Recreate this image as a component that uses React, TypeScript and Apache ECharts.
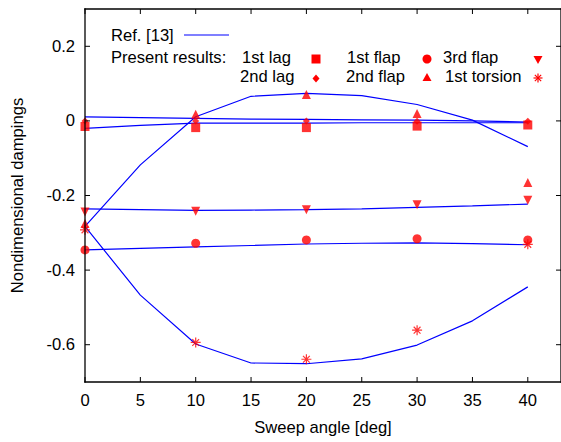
import React, { useEffect, useRef } from 'react';
import * as echarts from 'echarts';

// Reference [13] curves, sampled every 5 deg
const refSweep = [0, 5, 10, 15, 20, 25, 30, 35, 40];
const refLagA = [0.011, 0.009, 0.007, 0.005, 0.004, 0.003, 0.002, 0.0, -0.003];
const refLagB = [-0.020, -0.012, -0.006, -0.006, -0.006, -0.005, -0.005, -0.005, -0.005];
const refUp = [-0.283, -0.118, 0.011, 0.066, 0.074, 0.068, 0.044, 0.002, -0.069];
const refDown = [-0.283, -0.467, -0.598, -0.649, -0.651, -0.638, -0.601, -0.536, -0.445];
const ref3rdFlap = [-0.236, -0.238, -0.240, -0.239, -0.238, -0.236, -0.232, -0.228, -0.223];
const ref1stFlap = [-0.346, -0.342, -0.338, -0.334, -0.330, -0.328, -0.327, -0.329, -0.332];

// Present results
const sweep = [0, 10, 20, 30, 40];
const lag1 = [-0.015, -0.018, -0.018, -0.014, -0.011];
const flap1 = [-0.346, -0.328, -0.319, -0.316, -0.319];
const flap3 = [-0.244, -0.242, -0.238, -0.225, -0.213];
const lag2 = [0.0, 0.0, 0.0, -0.001, -0.001];
const flap2 = [-0.275, 0.018, 0.071, 0.020, -0.165];
const torsion1 = [-0.292, -0.594, -0.639, -0.561, -0.331];

const xTicks = [0, 5, 10, 15, 20, 25, 30, 35, 40];
const yTicks = [-0.6, -0.4, -0.2, 0, 0.2];
const xRange = [0, 43];
const yRange = [-0.7, 0.3];

const FONT = 'Liberation Sans';
const RED = '#ff0000';
const BLUE = '#0000ff';
const ASTERISK = 'path://M0,5L10,5M5,0L5,10M1.6,1.6L8.4,8.4M8.4,1.6L1.6,8.4';

const zip = (xs: number[], ys: number[]) => xs.map((x, i) => [x, ys[i]]);

export default function App() {
  const ref = useRef<HTMLDivElement>(null);
  useEffect(() => {
    if (!ref.current) return;
    const chart = echarts.init(ref.current, null, { renderer: 'svg' });
    const refLine = (data: number[]) => ({
      type: 'line',
      data: zip(refSweep, data),
      symbol: 'none',
      lineStyle: { color: BLUE, width: 1.2 },
      z: 2,
      silent: true,
    });
    const pts = (data: number[], symbol: string, size: number, extra: any = {}) => ({
      type: 'scatter',
      data: zip(sweep, data),
      symbol,
      symbolSize: size,
      itemStyle: { color: RED },
      z: 3,
      ...extra,
    });
    const txt = (text: string, x: number, y: number) => ({
      type: 'text',
      x,
      y,
      style: { text, fontSize: 16.6, fontFamily: FONT, fill: '#000', verticalAlign: 'middle', align: 'left' },
    });
    const seg = (x1: number, y1: number, x2: number, y2: number, color: string, w: number) => ({
      type: 'line',
      shape: { x1, y1, x2, y2 },
      style: { stroke: color, lineWidth: w },
    });
    // solid filled bar (used for the black frame and ticks)
    const bar = (x: number, y: number, width: number, height: number) => ({
      type: 'rect',
      z: 50,
      shape: { x, y, width, height },
      style: { fill: '#000000' },
    });
    const ast = (cx: number, cy: number, r: number) => ({
      type: 'group',
      children: [
        seg(cx - r, cy, cx + r, cy, RED, 1.2),
        seg(cx, cy - r, cx, cy + r, RED, 1.2),
        seg(cx - r * 0.7, cy - r * 0.7, cx + r * 0.7, cy + r * 0.7, RED, 1.2),
        seg(cx + r * 0.7, cy - r * 0.7, cx - r * 0.7, cy + r * 0.7, RED, 1.2),
      ],
    });
    const noLine = { show: false };
    const option: any = {
      animation: false,
      grid: { left: 85, top: 9, right: 0, bottom: 60 },
      xAxis: [
        {
          type: 'value',
          min: xRange[0],
          max: xRange[1],
          position: 'bottom',
          name: 'Sweep angle [deg]',
          nameLocation: 'middle',
          nameGap: 37,
          nameTextStyle: { fontSize: 16.6, color: '#000', fontFamily: FONT },
          axisLine: { show: false, onZero: false },
          axisTick: noLine,
          axisLabel: { customValues: xTicks, fontSize: 16.6, color: '#000', margin: 10, fontFamily: FONT },
          splitLine: noLine,
        },
      ],
      yAxis: [
        {
          type: 'value',
          min: yRange[0],
          max: yRange[1],
          position: 'left',
          name: 'Nondimensional dampings',
          nameLocation: 'middle',
          nameGap: 59,
          nameTextStyle: { fontSize: 16.6, color: '#000', fontFamily: FONT },
          axisLine: { show: false, onZero: false },
          axisTick: noLine,
          axisLabel: { customValues: yTicks, fontSize: 16.6, color: '#000', margin: 10, fontFamily: FONT },
          splitLine: noLine,
        },
      ],
      series: [
        refLine(refLagA),
        refLine(refLagB),
        refLine(refUp),
        refLine(refDown),
        refLine(ref3rdFlap),
        refLine(ref1stFlap),
        pts(lag1, 'rect', 9),
        pts(flap1, 'circle', 9),
        pts(flap3, 'triangle', 9, { symbolRotate: 180 }),
        pts(lag2, 'diamond', 7),
        pts(flap2, 'triangle', 9),
        pts(torsion1, ASTERISK, 10, { itemStyle: { color: 'rgba(0,0,0,0)', borderColor: RED, borderWidth: 1.2 } }),
      ],
    };
    chart.setOption(option);

    // Frame and mirrored inward ticks, positioned through the chart's own scales
    const [x0, y0] = chart.convertToPixel({ gridIndex: 0 }, [xRange[0], yRange[0]]) as number[];
    const [x1, y1] = chart.convertToPixel({ gridIndex: 0 }, [xRange[1], yRange[1]]) as number[];
    const T = 1.3;
    const frame: any[] = [
      bar(x0 - T / 2, y0 - T / 2, x1 - x0 + T, T),
      bar(x0 - T / 2, y1 - T / 2, x1 - x0 + T, T),
      bar(x0 - T / 2, y1 - T / 2, T, y0 - y1 + T),
      bar(x1 - T / 2, y1 - T / 2, T, y0 - y1 + T),
    ];
    xTicks.forEach((v) => {
      const px = (chart.convertToPixel({ gridIndex: 0 }, [v, yRange[0]]) as number[])[0];
      frame.push(bar(px - 0.5, y0 - 5, 1, 5));
      frame.push(bar(px - 0.5, y1, 1, 5));
    });
    yTicks.forEach((v) => {
      const py = (chart.convertToPixel({ gridIndex: 0 }, [xRange[0], v]) as number[])[1];
      frame.push(bar(x0, py - 0.5, 5, 1));
      frame.push(bar(x1 - 5, py - 0.5, 5, 1));
    });

    const legend: any[] = [
      txt('Ref. [13]', 111, 35),
      seg(184, 35, 229, 35, BLUE, 1.2),
      txt('Present results:', 111, 57),
      txt('1st lag', 242, 57),
      { type: 'rect', shape: { x: 311.5, y: 54.5, width: 9, height: 9 }, style: { fill: RED } },
      txt('1st flap', 347, 57),
      { type: 'circle', shape: { cx: 427, cy: 59, r: 4.5 }, style: { fill: RED } },
      txt('3rd flap', 443, 57),
      { type: 'polygon', shape: { points: [[533.5, 56], [542.5, 56], [538, 64]] }, style: { fill: RED } },
      txt('2nd lag', 240, 76),
      { type: 'polygon', shape: { points: [[316, 74.5], [319.5, 78.5], [316, 82.5], [312.5, 78.5]] }, style: { fill: RED } },
      txt('2nd flap', 346, 76),
      { type: 'polygon', shape: { points: [[427, 73], [431.5, 81], [422.5, 81]] }, style: { fill: RED } },
      txt('1st torsion', 445, 76),
      ast(538, 78, 4.5),
    ];
    chart.setOption({ graphic: [...frame, ...legend] });
    return () => chart.dispose();
  }, []);
  return <div ref={ref} style={{ position: 'fixed', left: 0, top: 0, width: 561, height: 442, background: '#fff' }} />;
}
